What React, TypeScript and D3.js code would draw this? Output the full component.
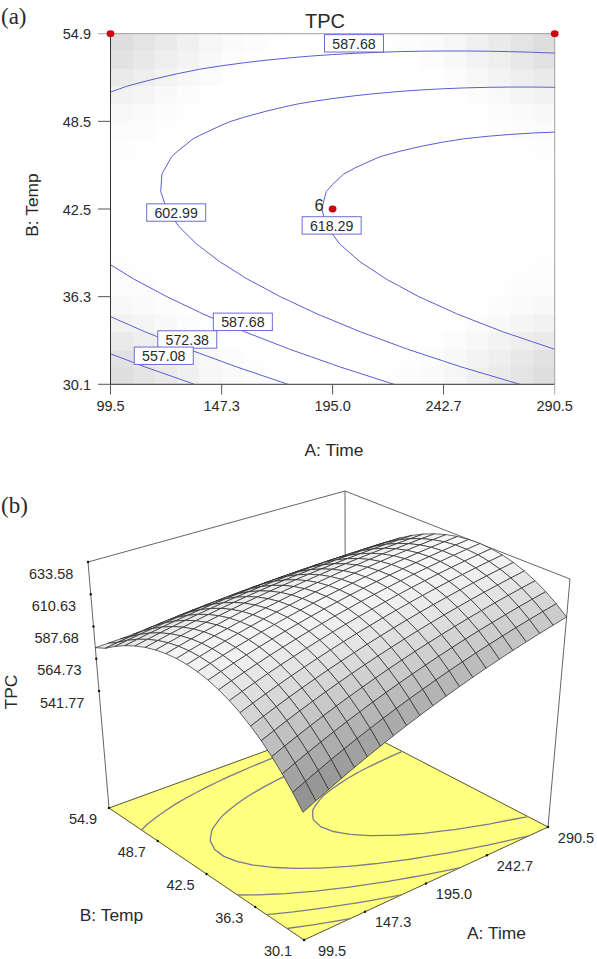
import React from "react";
import * as d3 from "d3";

// ---------- data ----------
const timeTicks = [99.5, 147.3, 195.0, 242.7, 290.5];
const timeTickLabels = ["99.5", "147.3", "195.0", "242.7", "290.5"];
const tempTicks = [30.1, 36.3, 42.5, 48.7, 54.9];
const tempTickLabels2D = ["30.1", "36.3", "42.5", "48.5", "54.9"];
const tempTickLabels3D = ["30.1", "36.3", "42.5", "48.7", "54.9"];
const tpcTicks = [633.58, 610.63, 587.68, 564.73, 541.77];
const contourLevels = [557.08, 572.38, 587.68, 602.99, 618.29];

// design points: time, temp
const designPoints = [
  [99.5, 54.9],
  [290.5, 54.9],
  [195.0, 42.5],
];

// contour labels: value, time, temp
const contourLabels: [string, number, number][] = [
  ["587.68", 204.2, 54.22],
  ["602.99", 127.75, 42.25],
  ["618.29", 194.6, 41.34],
  ["587.68", 156.4, 34.52],
  ["572.38", 132.5, 33.27],
  ["557.08", 122.4, 32.12],
];

// TPC on a 21 x 21 grid: rows run Temp 30.1 -> 54.9, columns Time 99.5 -> 290.5
const tpcRows = [
  [541.90,546.05,550.11,554.07,557.93,561.70,565.37,568.95,572.43,575.81,579.10,582.29,585.39,588.39,591.29,594.10,596.81,599.43,601.95,604.37,606.70],
  [550.97,554.98,558.89,562.71,566.43,570.05,573.58,577.01,580.35,583.59,586.74,589.79,592.74,595.60,598.36,601.02,603.59,606.06,608.44,610.72,612.91],
  [559.23,563.09,566.86,570.54,574.12,577.60,580.98,584.27,587.47,590.57,593.57,596.47,599.28,602.00,604.62,607.14,609.56,611.89,614.13,616.27,618.31],
  [566.68,570.41,574.03,577.56,581.00,584.34,587.58,590.73,593.78,596.73,599.59,602.36,605.02,607.59,610.07,612.45,614.73,616.92,619.01,621.00,622.90],
  [573.33,576.91,580.40,583.78,587.08,590.27,593.37,596.38,599.28,602.10,604.81,607.43,609.96,612.38,614.72,616.95,619.09,621.14,623.08,624.94,626.69],
  [579.18,582.61,585.95,589.20,592.35,595.40,598.36,601.22,603.98,606.65,609.23,611.70,614.08,616.37,618.56,620.65,622.65,624.55,626.35,628.06,629.68],
  [584.21,587.51,590.70,593.81,596.81,599.72,602.54,605.25,607.88,610.40,612.83,615.17,617.40,619.55,621.59,623.54,625.40,627.15,628.82,630.38,631.85],
  [588.44,591.59,594.65,597.61,600.47,603.24,605.91,608.48,610.96,613.35,615.63,617.82,619.92,621.92,623.82,625.63,627.34,628.95,630.47,631.90,633.22],
  [591.87,594.88,597.79,600.60,603.32,605.95,608.48,610.91,613.24,615.48,617.63,619.68,621.63,623.48,625.24,626.91,628.48,629.95,631.32,632.60,633.79],
  [594.49,597.35,600.12,602.79,605.37,607.85,610.24,612.53,614.72,616.82,618.82,620.72,622.53,624.24,625.86,627.38,628.81,630.14,631.37,632.51,633.55],
  [596.30,599.02,601.65,604.18,606.61,608.95,611.19,613.34,615.39,617.34,619.20,620.96,622.63,624.20,625.67,627.05,628.33,629.52,630.61,631.60,632.50],
  [597.31,599.89,602.37,604.76,607.05,609.24,611.34,613.34,615.25,617.06,618.78,620.40,621.92,623.35,624.68,625.91,627.05,628.09,629.04,629.89,630.65],
  [597.51,599.94,602.28,604.53,606.68,608.73,610.68,612.54,614.31,615.98,617.55,619.02,620.40,621.69,622.88,623.97,624.96,625.86,626.67,627.38,627.99],
  [596.90,599.20,601.39,603.49,605.50,607.41,609.22,610.94,612.56,614.08,615.51,616.85,618.08,619.22,620.27,621.22,622.07,622.83,623.49,624.05,624.52],
  [595.49,597.64,599.70,601.65,603.52,605.28,606.95,608.53,610.00,611.39,612.67,613.86,614.96,615.95,616.86,617.66,618.37,618.99,619.50,619.93,620.25],
  [593.28,595.28,597.19,599.01,600.73,602.35,603.88,605.31,606.64,607.88,609.03,610.07,611.02,611.88,612.64,613.30,613.87,614.34,614.71,614.99,615.18],
  [590.25,592.12,593.88,595.56,597.13,598.61,600.00,601.28,602.48,603.57,604.57,605.48,606.28,607.00,607.61,608.13,608.56,608.88,609.12,609.25,609.29],
  [586.42,588.14,589.77,591.30,592.73,594.07,595.31,596.45,597.50,598.46,599.31,600.07,600.74,601.31,601.78,602.16,602.44,602.62,602.71,602.71,602.60],
  [581.79,583.37,584.85,586.23,587.52,588.72,589.82,590.82,591.72,592.53,593.25,593.87,594.39,594.81,595.14,595.38,595.52,595.56,595.50,595.35,595.11],
  [576.35,577.78,579.12,580.36,581.51,582.56,583.52,584.38,585.14,585.81,586.38,586.85,587.23,587.51,587.70,587.79,587.79,587.69,587.49,587.20,586.81],
  [572.60,573.00,573.40,573.90,574.69,575.60,576.41,577.13,577.75,578.27,578.70,579.03,579.27,579.41,579.45,579.40,579.25,579.01,578.67,578.23,577.70],
];

// grey level of the background blocks, counted inward from each corner
const cornerShade = [
  [222,228,234,240,246,250,252,254],
  [226,232,238,243,248,252,254,255],
  [234,238,243,248,251,254,255,255],
  [242,245,249,252,254,255,255,255],
  [248,250,252,254,255,255,255,255],
  [251,252,254,255,255,255,255,255],
  [253,254,255,255,255,255,255,255],
  [254,255,255,255,255,255,255,255],
];

// ---------- layout ----------
const W = 597, H = 959;
const plot = { left: 110.5, right: 554.7, top: 33.7, bottom: 384.3 };
const SANS = "'Liberation Sans', Arial, sans-serif";
const SERIF = "'Liberation Serif', serif";
const TXT = "#2a2a2a";
const BLUE = "#5c5cd0";

const xA = d3.scaleLinear().domain([99.5, 290.5]).range([plot.left, plot.right]);
const yA = d3.scaleLinear().domain([30.1, 54.9]).range([plot.bottom, plot.top]);
const cellX = d3.scaleLinear().domain([0, 20]).range([plot.left, plot.right]);
const cellY = d3.scaleLinear().domain([0, 20]).range([plot.top, plot.bottom]);

const gridToTime = d3.scaleLinear().domain([0.5, 20.5]).range([99.5, 290.5]);
const gridToTemp = d3.scaleLinear().domain([0.5, 20.5]).range([30.1, 54.9]);

// open contour lines in time/temp coordinates
const zFlat = tpcRows.flat();
const contourGen = d3.contours().size([21, 21]).smooth(true);
function openLines(level: number): [number, number][][] {
  const out: [number, number][][] = [];
  const mp = contourGen.contour(zFlat, level);
  const inside = (p: number[]) =>
    p[0] >= 0.5 - 1e-9 && p[0] <= 20.5 + 1e-9 && p[1] >= 0.5 - 1e-9 && p[1] <= 20.5 + 1e-9;
  mp.coordinates.forEach((poly: number[][][]) =>
    poly.forEach((ring) => {
      const pts = ring.slice(0, -1);
      const start = pts.findIndex((p) => !inside(p));
      if (start < 0) {
        out.push(ring.map((p) => [gridToTime(p[0]), gridToTemp(p[1])]));
        return;
      }
      let cur: [number, number][] = [];
      for (let k = 0; k <= pts.length; k++) {
        const p = pts[(start + k) % pts.length];
        if (inside(p)) cur.push([gridToTime(p[0]), gridToTemp(p[1])]);
        else {
          if (cur.length > 1) out.push(cur);
          cur = [];
        }
      }
    })
  );
  return out;
}
const allLines = contourLevels.map(openLines);

// ---------- 3D box ----------
type Pt = [number, number];
// corners: [time lo, temp lo], [time hi, temp lo], [time hi, temp hi], [time lo, temp hi]
const floorQuad: Pt[] = [[304, 940], [548, 827], [345.5, 722], [109, 808]];
const topQuad: Pt[] = [[302, 672], [570, 579], [345, 491], [88, 562]];
const uScale = d3.scaleLinear().domain([99.5, 290.5]).range([0, 1]);
const vScale = d3.scaleLinear().domain([30.1, 54.9]).range([0, 1]);
const wScale = d3.scaleLinear().domain([541.77, 633.58]).range([0.4756, 1]);

function bilinear(q: Pt[], u: number, v: number): Pt {
  const a = (1 - u) * (1 - v), b = u * (1 - v), c = u * v, d = (1 - u) * v;
  return [
    a * q[0][0] + b * q[1][0] + c * q[2][0] + d * q[3][0],
    a * q[0][1] + b * q[1][1] + c * q[2][1] + d * q[3][1],
  ];
}
function project(time: number, temp: number, w: number): Pt {
  const u = uScale(time), v = vScale(temp);
  const f = bilinear(floorQuad, u, v), t = bilinear(topQuad, u, v);
  return [f[0] + (t[0] - f[0]) * w, f[1] + (t[1] - f[1]) * w];
}
const gridTime = d3.scaleLinear().domain([0, 20]).range([99.5, 290.5]);
const gridTemp = d3.scaleLinear().domain([0, 20]).range([30.1, 54.9]);

const node = (i: number, j: number) =>
  project(gridTime(i), gridTemp(j), wScale(tpcRows[j][i]));

const pathLine = d3.line<Pt>().x((d) => d[0]).y((d) => d[1]);
const poly = (pts: Pt[]) => pathLine(pts) + "Z";

function quadGrey(i: number, j: number) {
  const dA = ((tpcRows[j][i + 1] + tpcRows[j + 1][i + 1] - tpcRows[j][i] - tpcRows[j + 1][i]) / 2) * 10;
  const dB = ((tpcRows[j + 1][i] + tpcRows[j + 1][i + 1] - tpcRows[j][i] - tpcRows[j][i + 1]) / 2) * 10;
  const g = Math.max(125, 250 - 0.0105 * (dA * dA + dB * dB));
  const c = Math.round(g);
  return `rgb(${c},${c},${c})`;
}

const quads: { d: string; fill: string; key: string }[] = [];
for (let i = 19; i >= 0; i--) {
  for (let j = 19; j >= 0; j--) {
    quads.push({
      key: `${i}-${j}`,
      d: poly([node(i, j), node(i + 1, j), node(i + 1, j + 1), node(i, j + 1)]),
      fill: quadGrey(i, j),
    });
  }
}

const txt = (size: number, extra: any = {}) => ({
  fontFamily: SANS,
  fontSize: size,
  fill: TXT,
  ...extra,
});

export default function App() {
  const shadeCells: React.ReactNode[] = [];
  cornerShade.forEach((row, r) =>
    row.forEach((g, c) => {
      if (g >= 255) return;
      [[c, r], [19 - c, r], [c, 19 - r], [19 - c, 19 - r]].forEach(([cx, cy], k) =>
        shadeCells.push(
          <rect
            key={`${r}-${c}-${k}`}
            x={cellX(cx)}
            y={cellY(cy)}
            width={cellX(cx + 1) - cellX(cx) + 0.3}
            height={cellY(cy + 1) - cellY(cy) + 0.3}
            fill={`rgb(${g},${g},${g})`}
          />
        )
      );
    })
  );

  return (
    <svg
      width={W}
      height={H}
      viewBox={`0 0 ${W} ${H}`}
      style={{ position: "absolute", left: 0, top: 0, display: "block", background: "#fff" }}
    >
      {/* ---------- panel (a) ---------- */}
      <text x={1} y={24} fontFamily={SERIF} fontSize={23} fill={TXT}>(a)</text>
      <text x={325} y={28} textAnchor="middle" {...txt(20)}>TPC</text>
      {shadeCells}
      <line x1={plot.left} x2={plot.right} y1={plot.top} y2={plot.top} stroke="#b0b0b0" strokeWidth={1.2} />
      <line x1={plot.right} x2={plot.right} y1={plot.top} y2={plot.bottom} stroke="#b0b0b0" strokeWidth={1.2} />
      <line x1={plot.left} x2={plot.left} y1={plot.top} y2={plot.bottom} stroke="#333" strokeWidth={1} />
      <line x1={plot.left} x2={plot.right} y1={plot.bottom} y2={plot.bottom} stroke="#333" strokeWidth={1} />
      {tempTicks.map((t, i) => (
        <g key={t}>
          <line x1={98} x2={plot.left} y1={yA(t)} y2={yA(t)} stroke={i === 4 ? "#aaa" : "#555"} strokeWidth={1} />
          <text x={91} y={yA(t) + 5.5} textAnchor="end" {...txt(14.5)}>{tempTickLabels2D[i]}</text>
        </g>
      ))}
      {timeTicks.map((t, i) => (
        <g key={t}>
          <line x1={xA(t)} x2={xA(t)} y1={plot.bottom} y2={394.5} stroke={i === 4 ? "#aaa" : "#555"} strokeWidth={1} />
          <text x={xA(t)} y={411} textAnchor="middle" {...txt(14.5)}>{timeTickLabels[i]}</text>
        </g>
      ))}
      <text x={334} y={456} textAnchor="middle" {...txt(17.4)}>A: Time</text>
      <text transform="translate(38,205) rotate(-90)" textAnchor="middle" {...txt(17.4)}>B: Temp</text>

      {allLines.map((lines, l) =>
        lines.map((ln, k) => (
          <path
            key={`${l}-${k}`}
            d={pathLine(ln.map((p) => [xA(p[0]), yA(p[1])] as Pt)) || ""}
            fill="none"
            stroke={BLUE}
            strokeWidth={1}
          />
        ))
      )}
      {contourLabels.map(([s, t, b], i) => (
        <g key={i}>
          <rect x={xA(t) - 29.5} y={yA(b) - 8.7} width={59} height={17.4} fill="#fff" stroke={BLUE} strokeOpacity={0.9} strokeWidth={1} />
          <text x={xA(t)} y={yA(b) + 5.3} textAnchor="middle" {...txt(14.2)}>{s}</text>
        </g>
      ))}
      {designPoints.map(([t, b], i) => (
        <ellipse key={i} cx={xA(t)} cy={yA(b)} rx={3.9} ry={3.4} fill="#d00010" />
      ))}
      <text x={319} y={211} textAnchor="middle" {...txt(16.5)}>6</text>

      {/* ---------- panel (b) ---------- */}
      <text x={1} y={513} fontFamily={SERIF} fontSize={23} fill={TXT}>(b)</text>

      {/* back box edges */}
      <path d={pathLine([topQuad[3], topQuad[2], topQuad[1]]) || ""} fill="none" stroke="#555" strokeWidth={0.9} />
      <path d={pathLine([topQuad[3], floorQuad[3]]) || ""} fill="none" stroke="#555" strokeWidth={0.9} />
      <path d={pathLine([topQuad[1], floorQuad[1]]) || ""} fill="none" stroke="#555" strokeWidth={0.9} />
      <path d={pathLine([topQuad[2], floorQuad[2]]) || ""} fill="none" stroke="#555" strokeWidth={0.9} />

      {/* floor */}
      <path d={poly(floorQuad)} fill="#ffff80" stroke="#55552a" strokeWidth={1} />
      {allLines.map((lines, l) =>
        lines.map((ln, k) => (
          <path
            key={`f${l}-${k}`}
            d={pathLine(ln.map((p) => project(p[0], p[1], 0))) || ""}
            fill="none"
            stroke="#7b7b8e"
            strokeWidth={1.3}
          />
        ))
      )}

      {/* surface, back to front */}
      {quads.map((q) => (
        <path key={q.key} d={q.d} fill={q.fill} stroke="#262626" strokeWidth={0.7} strokeLinejoin="round" />
      ))}

      {/* axes */}
      {tpcTicks.map((z) => {
        const p = project(99.5, 54.9, wScale(z));
        return (
          <g key={z}>
            <circle cx={p[0]} cy={p[1]} r={1.2} fill="#111" />
            <text x={p[0] - 14.7} y={p[1] + 16.5} textAnchor="end" {...txt(14.5)}>{z.toFixed(2)}</text>
          </g>
        );
      })}
      {tempTicks.map((t, i) => {
        const p = project(99.5, t, 0);
        return (
          <g key={t}>
            <circle cx={p[0]} cy={p[1]} r={1.2} fill="#111" />
            <text x={p[0] - 26} y={p[1] + 16} textAnchor="middle" {...txt(14.5)}>{tempTickLabels3D[i]}</text>
          </g>
        );
      })}
      {timeTicks.map((t, i) => {
        const p = project(t, 30.1, 0);
        return (
          <g key={t}>
            <circle cx={p[0]} cy={p[1]} r={1.2} fill="#111" />
            <text x={p[0] + 28} y={p[1] + 15.5} textAnchor="middle" {...txt(14.5)}>{timeTickLabels[i]}</text>
          </g>
        );
      })}
      <text x={111.5} y={921} textAnchor="middle" {...txt(17.4)}>B: Temp</text>
      <text x={496.5} y={939} textAnchor="middle" {...txt(17.4)}>A: Time</text>
      <text transform="translate(17,692) rotate(-90)" textAnchor="middle" {...txt(17.4)}>TPC</text>
    </svg>
  );
}
